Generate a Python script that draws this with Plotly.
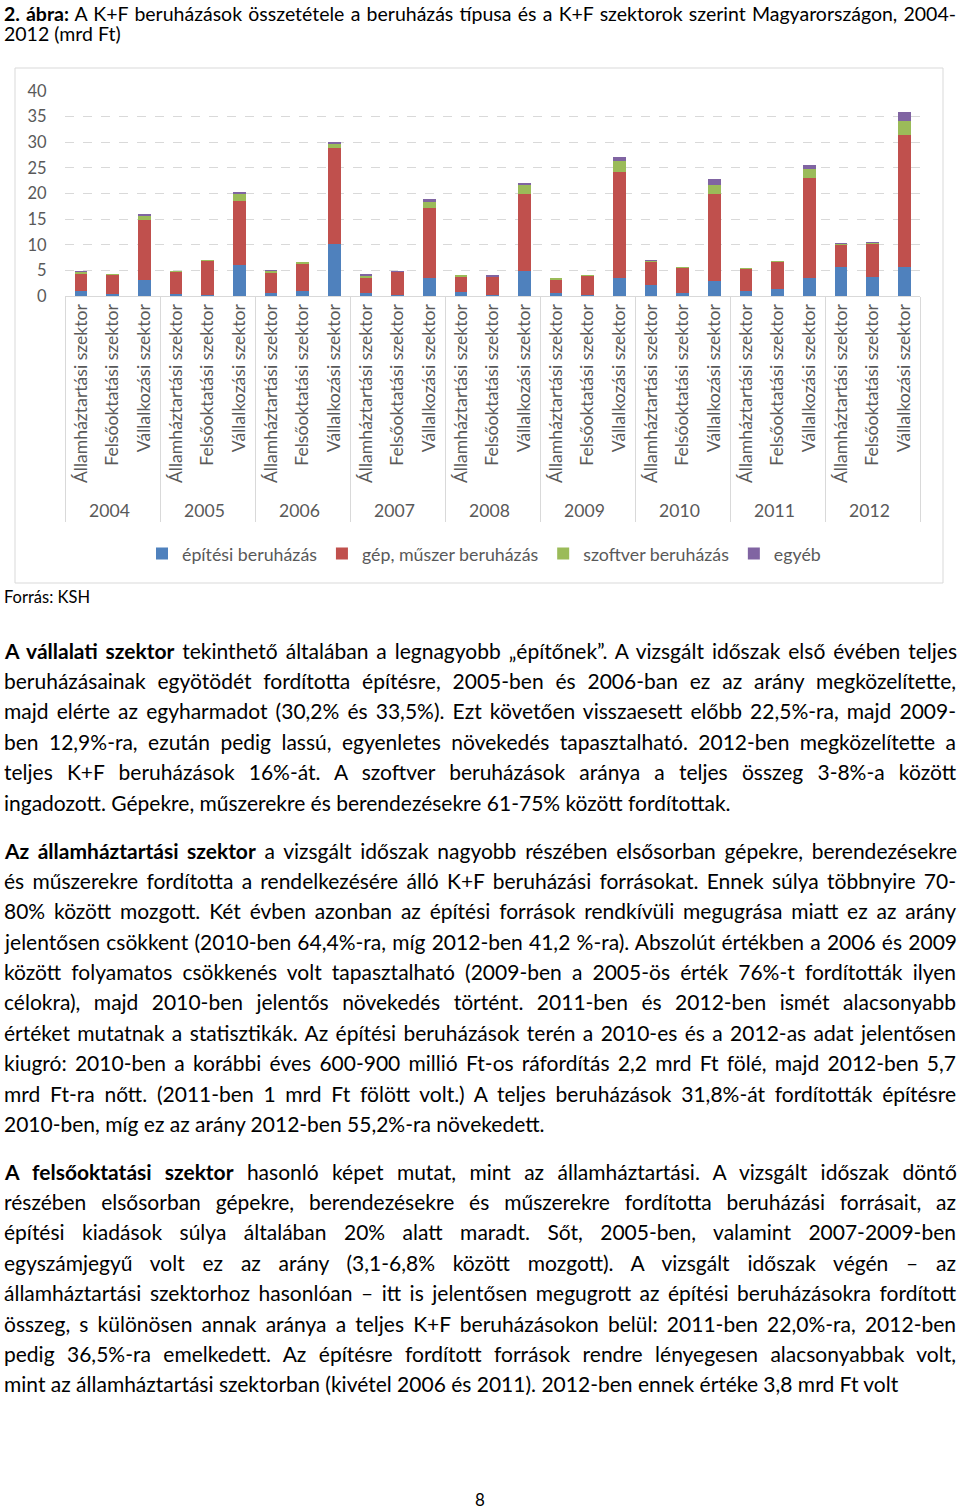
import json
import plotly.graph_objects as go

years = ["2004", "2005", "2006", "2007", "2008", "2009", "2010", "2011", "2012"]
sectors = ["Államháztartási szektor", "Felsőoktatási szektor", "Vállalkozási szektor"]

# values per (year, sector) in order: Á, F, V for each year (mrd Ft)
epitesi = [1.0, 0.3, 3.05,  0.4, 0.2, 6.1,  0.6, 1.0, 10.1,  0.65, 0.2, 3.5,
           0.7, 0.1, 4.8,   0.6, 0.1, 3.5,  2.2, 0.55, 2.85, 1.05, 1.45, 3.5,
           5.7, 3.8, 5.6]
gep = [3.3, 3.8, 11.85,  4.2, 6.6, 12.4,  3.8, 5.2, 18.8,  2.85, 4.5, 13.7,
       2.95, 3.55, 15.1, 2.6, 3.75, 20.7, 4.45, 4.95, 17.0, 4.25, 5.25, 19.6,
       4.3, 6.4, 25.9]
szoftver = [0.45, 0.1, 0.8,  0.25, 0.15, 1.4,  0.5, 0.35, 0.8,  0.5, 0.05, 1.2,
            0.4, 0.05, 1.7,  0.25, 0.2, 2.1,   0.25, 0.15, 1.85, 0.15, 0.1, 1.75,
            0.15, 0.2, 2.6]
egyeb = [0.1, 0.05, 0.3,  0.1, 0.05, 0.3,  0.2, 0.1, 0.4,  0.2, 0.05, 0.5,
         0.1, 0.4, 0.4,   0.1, 0.1, 0.9,   0.1, 0.05, 1.05, 0.05, 0.05, 0.7,
         0.1, 0.05, 1.9]

series_names = ["építési beruházás", "gép, műszer beruházás", "szoftver beruházás", "egyéb"]
series_vals = [epitesi, gep, szoftver, egyeb]
colors = ["#4F81BD", "#C0504D", "#9BBB59", "#8064A2"]

x_outer = [y for y in years for _ in sectors]
x_inner = [s for _ in years for s in sectors]

FONT = "Lato, 'Open Sans', sans-serif"
GRAY = "#595959"

fig = go.Figure()
for name, vals, col in zip(series_names, series_vals, colors):
    fig.add_trace(go.Bar(x=[x_outer, x_inner], y=vals, name=name,
                         marker=dict(color=col, line=dict(width=0))))

# plot area pixel geometry
L, R, T, B = 65, 920, 91, 296
W, H = 960, 1509

def px_x(px):
    return (px - L) / (R - L)

def px_y(py):
    return (B - py) / (B - T)

fig.update_layout(
    width=W, height=H,
    margin=dict(l=L, r=W - R, t=T, b=H - B, pad=0),
    barmode="stack", bargap=0.6,
    paper_bgcolor="white", plot_bgcolor="white",
    font=dict(family=FONT, color=GRAY, size=17),
    legend=dict(orientation="h", x=px_x(484), xanchor="center",
                y=px_y(554), yanchor="middle",
                font=dict(family=FONT, size=17.8, color=GRAY),
                traceorder="normal", itemwidth=30, bgcolor="rgba(0,0,0,0)"),
    showlegend=True,
)
fig.update_yaxes(range=[0, 40], dtick=5, showgrid=True, gridcolor="#D9D9D9",
                 griddash="dash", gridwidth=1, zeroline=False, showline=False,
                 ticks="outside", ticklen=14, tickcolor="rgba(0,0,0,0)",
                 tickfont=dict(family=FONT, size=16.5, color=GRAY))
fig.update_xaxes(type="multicategory", tickangle=-90, showline=True,
                 linecolor="#D9D9D9", linewidth=1, showdividers=True,
                 dividercolor="#D9D9D9", dividerwidth=1, ticks="",
                 tickfont=dict(family=FONT, size=17.6, color=GRAY))

shapes = [dict(type="rect", xref="paper", yref="paper",
               x0=px_x(15), x1=px_x(943), y0=px_y(583), y1=px_y(68),
               line=dict(color="#D9D9D9", width=1), fillcolor="rgba(0,0,0,0)",
               layer="below")]
fig.update_layout(shapes=shapes)

annots = []
justify_idx = []

def text_at(px, py, txt, size=21, anchor="left", color="black", justify=False):
    if justify:
        justify_idx.append(len(annots))
    annots.append(dict(xref="paper", yref="paper", x=px_x(px), y=px_y(py),
                       text=txt, showarrow=False, xanchor=anchor, yanchor="middle",
                       font=dict(family=FONT, size=size, color=color), align=anchor,
                       borderpad=0))

title_lines = [
    "<b>2. ábra:</b> A K+F beruházások összetétele a beruházás típusa és a K+F szektorok szerint Magyarországon, 2004-",
    "2012 (mrd Ft)",
]
text_at(3, 13, title_lines[0], size=19.5, justify=True)
text_at(3, 34, title_lines[1], size=19.5)
text_at(3, 597, "Forrás: KSH", size=16.5)

para1 = [
    "<b>A vállalati szektor</b> tekinthető általában a legnagyobb „építőnek”. A vizsgált időszak első évében teljes",
    "beruházásainak egyötödét fordította építésre, 2005-ben és 2006-ban ez az arány megközelítette,",
    "majd elérte az egyharmadot (30,2% és 33,5%). Ezt követően visszaesett előbb 22,5%-ra, majd 2009-",
    "ben 12,9%-ra, ezután pedig lassú, egyenletes növekedés tapasztalható. 2012-ben megközelítette a",
    "teljes K+F beruházások 16%-át. A szoftver beruházások aránya a teljes összeg 3-8%-a között",
    "ingadozott. Gépekre, műszerekre és berendezésekre 61-75% között fordítottak.",
]
para2 = [
    "<b>Az államháztartási szektor</b> a vizsgált időszak nagyobb részében elsősorban gépekre, berendezésekre",
    "és műszerekre fordította a rendelkezésére álló K+F beruházási forrásokat. Ennek súlya többnyire 70-",
    "80% között mozgott. Két évben azonban az építési források rendkívüli megugrása miatt ez az arány",
    "jelentősen csökkent (2010-ben 64,4%-ra, míg 2012-ben 41,2 %-ra). Abszolút értékben a 2006 és 2009",
    "között folyamatos csökkenés volt tapasztalható (2009-ben a 2005-ös érték 76%-t fordították ilyen",
    "célokra), majd 2010-ben jelentős növekedés történt. 2011-ben és 2012-ben ismét alacsonyabb",
    "értéket mutatnak a statisztikák. Az építési beruházások terén a 2010-es és a 2012-as adat jelentősen",
    "kiugró: 2010-ben a korábbi éves 600-900 millió Ft-os ráfordítás 2,2 mrd Ft fölé, majd 2012-ben 5,7",
    "mrd Ft-ra nőtt. (2011-ben 1 mrd Ft fölött volt.) A teljes beruházások 31,8%-át fordították építésre",
    "2010-ben, míg ez az arány 2012-ben 55,2%-ra növekedett.",
]
para3 = [
    "<b>A felsőoktatási szektor</b> hasonló képet mutat, mint az államháztartási. A vizsgált időszak döntő",
    "részében elsősorban gépekre, berendezésekre és műszerekre fordította beruházási forrásait, az",
    "építési kiadások súlya általában 20% alatt maradt. Sőt, 2005-ben, valamint 2007-2009-ben",
    "egyszámjegyű volt ez az arány (3,1-6,8% között mozgott). A vizsgált időszak végén – az",
    "államháztartási szektorhoz hasonlóan – itt is jelentősen megugrott az építési beruházásokra fordított",
    "összeg, s különösen annak aránya a teljes K+F beruházásokon belül: 2011-ben 22,0%-ra, 2012-ben",
    "pedig 36,5%-ra emelkedett. Az építésre fordított források rendre lényegesen alacsonyabbak volt,",
    "mint az államháztartási szektorban (kivétel 2006 és 2011). 2012-ben ennek értéke 3,8 mrd Ft volt",
]

LH = 30.4
for start, para in [(650, para1), (850, para2), (1171, para3)]:
    for i, line in enumerate(para):
        last = (i == len(para) - 1)
        text_at(3, start + i * LH, line, size=21, justify=not last)

text_at(480, 1499, "8", size=17, anchor="center")

fig.update_layout(annotations=annots)

post_js = """
document.body.style.margin = '0';
var J = %s;
var TARGET = 952;
J.forEach(function(i){
  var t = document.querySelector('.annotation[data-index="' + i + '"] text.annotation-text');
  if (!t) { return; }
  var n = (t.textContent.match(/ /g) || []).length;
  var w = t.getComputedTextLength();
  if (n > 0 && w < TARGET) { t.style.wordSpacing = ((TARGET - w) / n) + 'px'; }
});
""" % json.dumps(justify_idx)

fig.write_html("out.html", post_script=post_js,
               config={"displayModeBar": False, "staticPlot": True})
